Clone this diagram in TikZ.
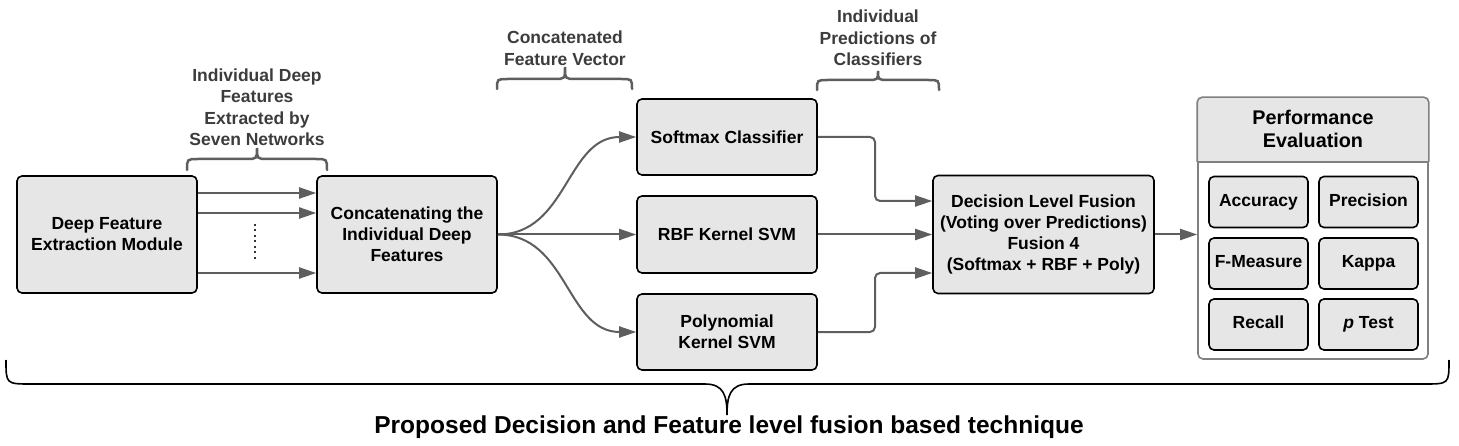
\documentclass[tikz,border=0pt]{standalone}
\usepackage{fontspec}
\setmainfont{Liberation Sans}
\usetikzlibrary{arrows.meta,calc}
\definecolor{boxgray}{HTML}{E6E6E6}
\definecolor{arrgray}{HTML}{5E5E5E}
\definecolor{perfgray}{HTML}{808080}
\definecolor{labgray}{HTML}{3C3C3C}
\begin{document}
\begin{tikzpicture}[x=1pt,y=-1pt,
  box/.style={draw=black, fill=boxgray, line width=1.6pt, rounded corners=5pt,
    align=center, inner sep=0pt, font=\fontsize{17.5}{21}\selectfont\bfseries},
  cell/.style={box, minimum width=99pt, minimum height=51pt, text height=12.6pt, text depth=3.7pt},
  arr/.style={draw=arrgray, line width=2pt, -{Triangle[length=17pt,width=11pt]}},
  lab/.style={align=center, text=labgray, inner sep=0pt, font=\fontsize{17.5}{21.5}\selectfont\bfseries},
  brc/.style={draw=arrgray, line width=2.5pt, line cap=round},
]
\useasboundingbox (0,0) rectangle (1459,446);

% main boxes
\node[box, minimum width=180pt, minimum height=117pt] (dfe) at (107,234.5) {Deep Feature\\Extraction Module};
\node[box, minimum width=180pt, minimum height=117pt] (cat) at (407,234.5) {Concatenating the\\Individual Deep\\Features};
\node[box, minimum width=180pt, minimum height=76pt] (soft) at (727,137) {Softmax Classifier};
\node[box, minimum width=180pt, minimum height=77pt] (rbf) at (727,234.5) {RBF Kernel SVM};
\node[box, minimum width=180pt, minimum height=76pt] (poly) at (727,332) {Polynomial\\Kernel SVM};
\node[box, minimum width=221pt, minimum height=118pt] (fus) at (1043.5,234.5) {Decision Level Fusion\\(Voting over Predictions)\\Fusion 4\\(Softmax + RBF + Poly)};

% performance box
\node[draw=perfgray, fill=white, line width=1.6pt, rounded corners=5pt,
  minimum width=230pt, minimum height=261pt, inner sep=0pt] (perf) at (1313,228.5) {};
\filldraw[fill=boxgray, draw=perfgray, line width=1.6pt, rounded corners=5pt]
  (perf.west |- 0,162) -- (perf.north west) -- (perf.north east) -- (perf.east |- 0,162);
\draw[perfgray, line width=1.6pt] (perf.west |- 0,162) -- (perf.east |- 0,162);
\node[lab, text=black, font=\fontsize{19.8}{23.5}\selectfont\bfseries] (perfhead) at (1313,129) {Performance\\Evaluation};
\node[cell] (acc) at (1258.5,202) {Accuracy};
\node[cell] (prec) at (1368.5,202) {Precision};
\node[cell] (fm) at (1258.5,263.5) {F-Measure};
\node[cell] (kap) at (1368.5,263.5) {Kappa};
\node[cell] (rec) at (1258.5,324.5) {Recall};
\node[cell] (pt) at (1368.5,324.5) {\textit{p} Test};

% arrows between first two boxes
\draw[arr] (dfe.east |- 0,193) -- (cat.west |- 0,193);
\draw[arr] (dfe.east |- 0,213) -- (cat.west |- 0,213);
\draw[arr] (dfe.east |- 0,273) -- (cat.west |- 0,273);
\coordinate (dtop) at (255,224);
\coordinate (dbot) at (255,262);
\draw[black!80, line width=2pt, dash pattern=on 2pt off 3.5pt] (dtop) -- (dbot);

% fan out
\draw[arr] (cat.east) .. controls +(70,0) and +(-70,0) .. (soft.west);
\draw[arr] (cat.east) -- (rbf.west);
\draw[arr] (cat.east) .. controls +(70,0) and +(-70,0) .. (poly.west);

% into fusion
\coordinate (j1) at (875,201);
\coordinate (j3) at (875,273);
\draw[arr, rounded corners=5pt] (soft.east) -| (j1) -- (fus.west |- j1);
\draw[arr] (rbf.east) -- (fus.west);
\draw[arr, rounded corners=5pt] (poly.east) -| (j3) -- (fus.west |- j3);

% to performance
\draw[arr] (fus.east) -- (perf.west |- fus.east);

% labels with braces
\node[lab] (l1) at (257,107) {Individual Deep\\Features\\Extracted by\\Seven Networks};
\draw[brc] (187,170) .. controls (187,159) .. (198,159) -- (246,159) .. controls (257,159) .. (257,148)
  .. controls (257,159) .. (268,159) -- (316,159) .. controls (327,159) .. (327,170);

\node[lab] (l2) at (565,48) {Concatenated\\Feature Vector};
\draw[brc] (497,89) .. controls (497,79) .. (508,79) -- (554,79) .. controls (565,79) .. (565,67)
  .. controls (565,79) .. (576,79) -- (621,79) .. controls (632,79) .. (632,89);

\node[lab] (l3) at (878,38) {Individual\\Predictions of\\Classifiers};
\draw[brc] (817,90) .. controls (817,80) .. (828,80) -- (867,80) .. controls (878,80) .. (878,71)
  .. controls (878,80) .. (889,80) -- (928,80) .. controls (939,80) .. (939,90);

% bottom brace
\draw[black, line width=1.6pt] (6,360) .. controls (6,384) .. (31,384) -- (705,384)
  .. controls (724,384) and (727,396) .. (727,415)
  .. controls (727,396) and (730,384) .. (749,384) -- (1424,384) .. controls (1449,384) .. (1449,360);
\node[inner sep=0pt, font=\fontsize{24.5}{28}\selectfont\bfseries] (title) at (729,427) {Proposed Decision and Feature level fusion based technique};
\end{tikzpicture}
\end{document}
